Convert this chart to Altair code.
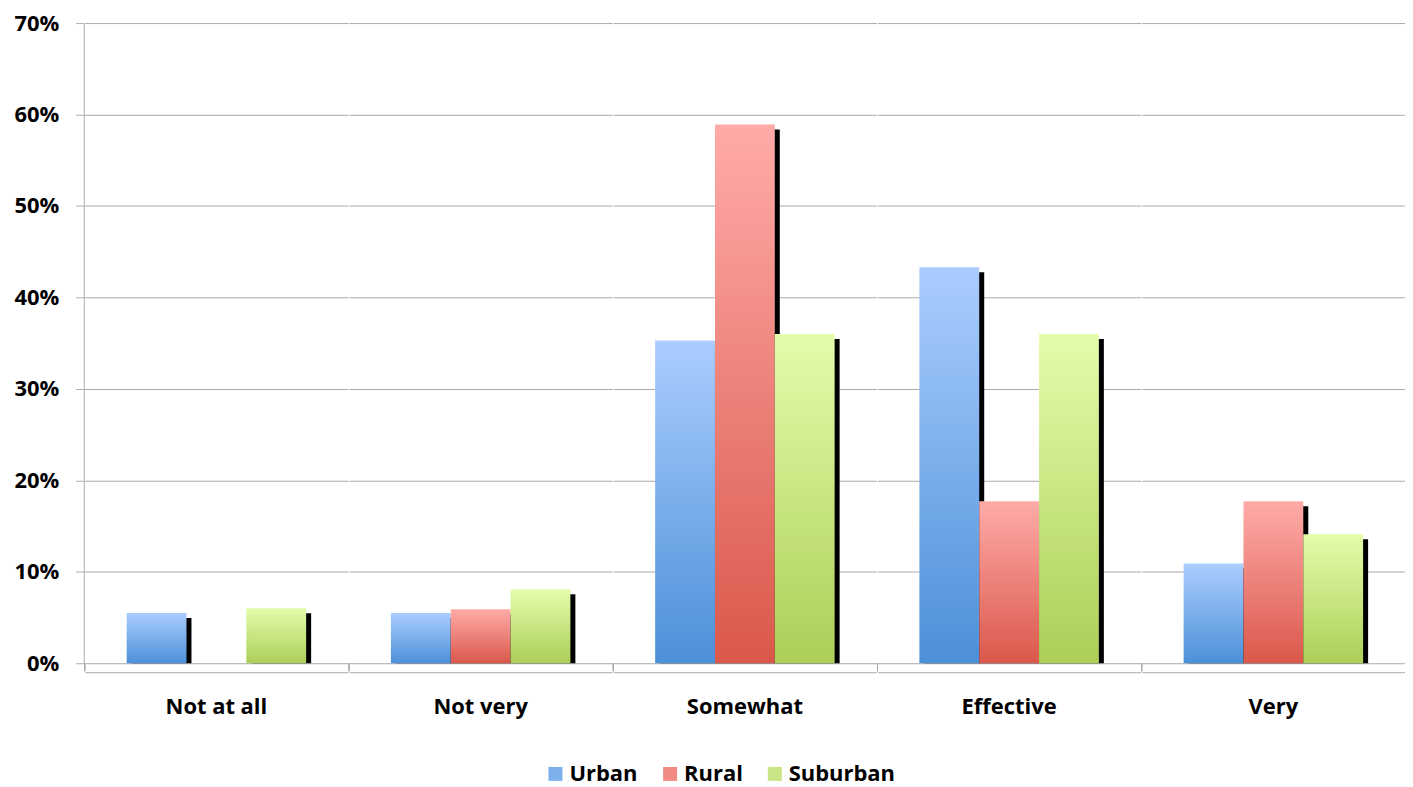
import altair as alt
import pandas as pd

categories = ["Not at all", "Not very", "Somewhat", "Effective", "Very"]
series = ["Urban", "Rural", "Suburban"]
urban = [5.5, 5.5, 35.3, 43.3, 10.9]
rural = [0.0, 5.9, 58.9, 17.7, 17.7]
suburban = [6.0, 8.1, 36.0, 36.0, 14.1]
y_ticks = [0, 10, 20, 30, 40, 50, 60, 70]

top_colors = ["#abcdff", "#ffaba8", "#e3fdab"]
bottom_colors = ["#4c90d8", "#da584b", "#abcf58"]
legend_colors = ["#7fb0ee", "#f08a83", "#c9e585"]

rows = []
for name, vals in zip(series, [urban, rural, suburban]):
    for c, v in zip(categories, vals):
        rows.append({"category": c, "series": name, "value": v})
df = pd.DataFrame(rows)

FONT = "Open Sans"
FS = 22
GRID = "#aaaaaa"
W, H = 264, 642

x_enc = alt.X("series:N", sort=series,
              scale=alt.Scale(paddingInner=0, paddingOuter=0.7),
              axis=alt.Axis(labels=False, ticks=False, title=None, domainColor=GRID,
                            domainWidth=1, grid=False))
y_enc = alt.Y("value:Q", scale=alt.Scale(domain=[0, 70], nice=False),
              axis=alt.Axis(values=y_ticks, labelExpr="datum.value + '%'", title=None,
                            grid=True, gridColor=GRID, gridWidth=1,
                            domainColor=GRID, tickColor=GRID, tickSize=8,
                            labelFont=FONT, labelFontSize=FS, labelFontWeight="bold",
                            labelColor="black", labelPadding=17))

base = alt.Chart()

shadow = base.mark_bar(color="black", xOffset=5, x2Offset=5, yOffset=5, clip=True).encode(
    x=x_enc, y=y_enc
).transform_filter("datum.value > 0")

layers = [shadow]
for s, tc, bc in zip(series, top_colors, bottom_colors):
    grad = alt.Gradient(gradient="linear", x1=0, x2=0, y1=0, y2=1,
                        stops=[alt.GradientStop(color=tc, offset=0),
                               alt.GradientStop(color=bc, offset=1)])
    layers.append(
        base.mark_bar(color=grad).encode(x=x_enc, y=y_enc)
        .transform_filter(alt.datum.series == s)
    )

legend_layer = base.mark_square(opacity=0, size=0).encode(
    x=x_enc, y=y_enc,
    color=alt.Color("series:N", sort=series,
                    scale=alt.Scale(domain=series, range=legend_colors),
                    legend=alt.Legend(orient="none", direction="horizontal", title=None,
                                      legendX=461, legendY=742,
                                      symbolType="square", symbolSize=196,
                                      symbolOpacity=1, symbolStrokeWidth=0,
                                      labelFont=FONT, labelFontSize=FS,
                                      labelFontWeight="bold", labelColor="black",
                                      columnPadding=21, labelOffset=3))
)

sep_tick = base.mark_rule(color=GRID, strokeWidth=1).encode(
    x=alt.value(0), y=alt.value(H), y2=alt.value(H + 8)
)

layered = alt.layer(sep_tick, *layers, legend_layer, data=df).properties(width=W, height=H)

chart = layered.facet(
    column=alt.Column("category:N", sort=categories, title=None,
                      header=alt.Header(labelOrient="bottom", labelFont=FONT,
                                        labelFontSize=FS, labelFontWeight="bold",
                                        labelColor="black", labelPadding=25))
).properties(
    spacing=0, background="white",
    padding={"left": 6, "top": 3, "right": 0, "bottom": 3}
).configure_view(stroke=None, strokeWidth=0)

chart.save("out.html", embed_options={"renderer": "svg", "actions": False})
